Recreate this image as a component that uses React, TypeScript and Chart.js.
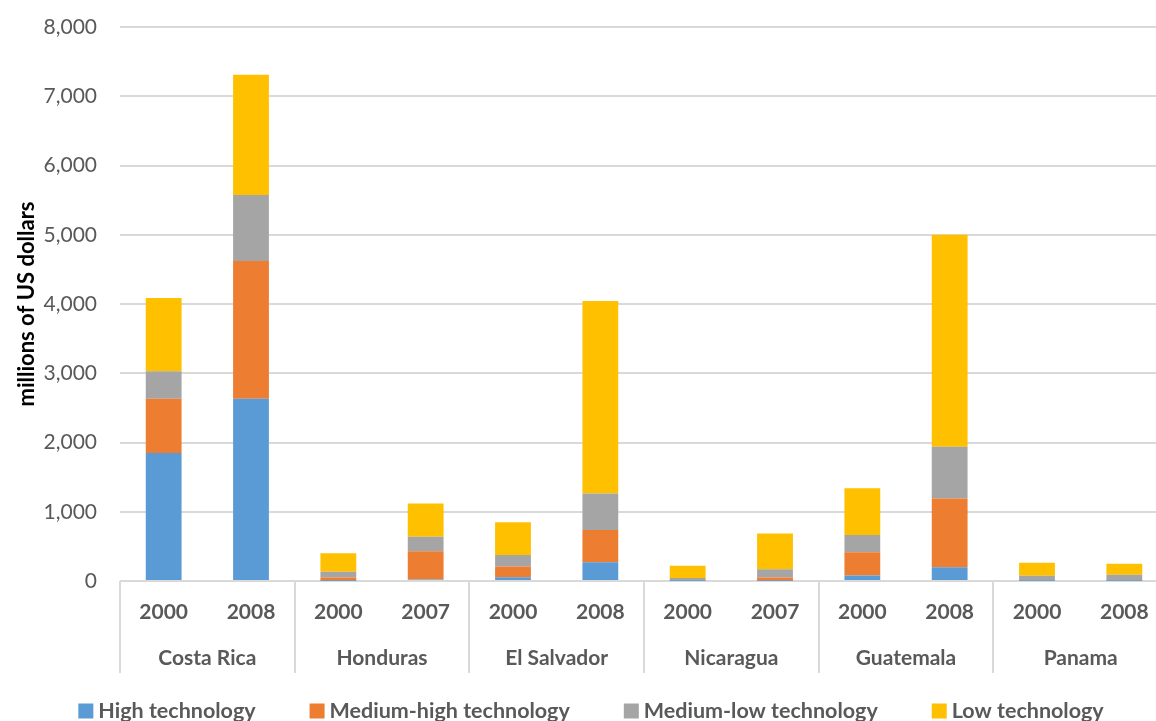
import React, { useEffect, useRef } from "react";
import { Chart, registerables } from "chart.js";

Chart.register(...registerables);

const countries = ["Costa Rica", "Honduras", "El Salvador", "Nicaragua", "Guatemala", "Panama"];
const years = ["2000", "2008", "2000", "2007", "2000", "2008", "2000", "2007", "2000", "2008", "2000", "2008"];
const seriesNames = ["High technology", "Medium-high technology", "Medium-low technology", "Low technology"];
const highTech = [1850, 2630, 5, 20, 55, 270, 2, 5, 80, 200, 2, 2];
const mediumHighTech = [780, 1990, 45, 410, 155, 465, 5, 45, 335, 990, 8, 8];
const mediumLowTech = [400, 955, 85, 210, 165, 530, 38, 120, 250, 750, 65, 80];
const lowTech = [1055, 1735, 265, 480, 475, 2780, 175, 515, 675, 3060, 190, 160];
const yMin = 0;
const yMax = 8000;
const yStep = 1000;

const seriesColors = ["#5B9BD5", "#ED7D31", "#A5A5A5", "#FFC000"];
const FONT = "Lato, 'Open Sans', 'DejaVu Sans', sans-serif";
const TEXT = "#595959";
const GRID = "#d9d9d9";
const X_AXIS_HEIGHT = 92;

const groupAxisPlugin = {
  id: "groupAxis",
  afterDraw(chart: any) {
    const x = chart.scales.x;
    const area = chart.chartArea;
    const ctx = chart.ctx;
    const step = x.getPixelForValue(1) - x.getPixelForValue(0);
    const start = x.getPixelForValue(0) - step / 2;
    ctx.save();
    ctx.strokeStyle = GRID;
    ctx.lineWidth = 2;
    for (let k = 0; k <= countries.length; k++) {
      const px = Math.round(start + 2 * k * step);
      ctx.beginPath();
      ctx.moveTo(px, area.bottom);
      ctx.lineTo(px, area.bottom + X_AXIS_HEIGHT);
      ctx.stroke();
    }
    ctx.fillStyle = TEXT;
    ctx.font = `bold 21px ${FONT}`;
    ctx.textAlign = "center";
    ctx.textBaseline = "middle";
    countries.forEach((c, k) => {
      const px = start + (2 * k + 1) * step;
      ctx.fillText(c, px, area.bottom + 77);
    });
    ctx.restore();
  },
};

const legendPlugin = {
  id: "customLegend",
  afterDraw(chart: any) {
    const ctx = chart.ctx;
    const box = 15;
    const gapText = 5;
    const gapItem = 54;
    ctx.save();
    ctx.font = `bold 21.5px ${FONT}`;
    const items = chart.data.datasets.map((d: any) => ({
      label: d.label,
      color: d.backgroundColor,
      w: box + gapText + ctx.measureText(d.label).width,
    }));
    const total = items.reduce((s: number, it: any) => s + it.w, 0) + gapItem * (items.length - 1);
    let x = 591 - total / 2;
    const cy = 711;
    ctx.textBaseline = "middle";
    ctx.textAlign = "left";
    items.forEach((it: any) => {
      ctx.fillStyle = it.color;
      ctx.fillRect(x, cy - box / 2, box, box);
      ctx.fillStyle = TEXT;
      ctx.fillText(it.label, x + box + gapText, cy);
      x += it.w + gapItem;
    });
    ctx.restore();
  },
};

export default function App() {
  const ref = useRef<HTMLCanvasElement | null>(null);

  useEffect(() => {
    if (!ref.current) return;
    const values = [highTech, mediumHighTech, mediumLowTech, lowTech];
    const chart = new Chart(ref.current, {
      type: "bar",
      data: {
        labels: years,
        datasets: values.map((v, i) => ({
          label: seriesNames[i],
          data: v,
          backgroundColor: seriesColors[i],
          borderWidth: 0,
          barPercentage: 0.41,
          categoryPercentage: 1,
        })),
      },
      options: {
        responsive: false,
        animation: false,
        devicePixelRatio: 1,
        layout: { padding: { top: 27, right: 4, left: 0, bottom: 48 } },
        plugins: {
          legend: { display: false },
          tooltip: { enabled: false },
        },
        scales: {
          x: {
            stacked: true,
            grid: { display: false },
            border: { display: false },
            ticks: {
              color: TEXT,
              font: { family: FONT, size: 21, weight: "bold" },
              padding: 11,
              maxRotation: 0,
              autoSkip: false,
            },
            afterFit: (scale: any) => {
              scale.height = X_AXIS_HEIGHT;
            },
          },
          y: {
            stacked: true,
            min: yMin,
            max: yMax,
            grid: {
              color: GRID,
              lineWidth: 2,
              drawTicks: true,
              tickLength: 20,
              tickColor: "rgba(0,0,0,0)",
            },
            border: { display: false },
            ticks: {
              stepSize: yStep,
              color: TEXT,
              font: { family: FONT, size: 21 },
              padding: 3,
              callback: (v: any) => Number(v).toLocaleString("en-US"),
            },
            title: {
              display: true,
              text: "millions of US dollars",
              color: "#000000",
              font: { family: FONT, size: 22, weight: "bold" },
              padding: { top: 14, bottom: 0 },
            },
            afterFit: (scale: any) => {
              scale.width = 120;
            },
          },
        },
      },
      plugins: [groupAxisPlugin, legendPlugin],
    });
    return () => chart.destroy();
  }, []);

  return (
    <div
      style={{
        position: "fixed",
        left: 0,
        top: 0,
        width: 1156,
        height: 721,
        overflow: "hidden",
        background: "#ffffff",
      }}
    >
      <canvas ref={ref} width={1172} height={721} style={{ width: 1172, height: 721, display: "block" }} />
    </div>
  );
}
